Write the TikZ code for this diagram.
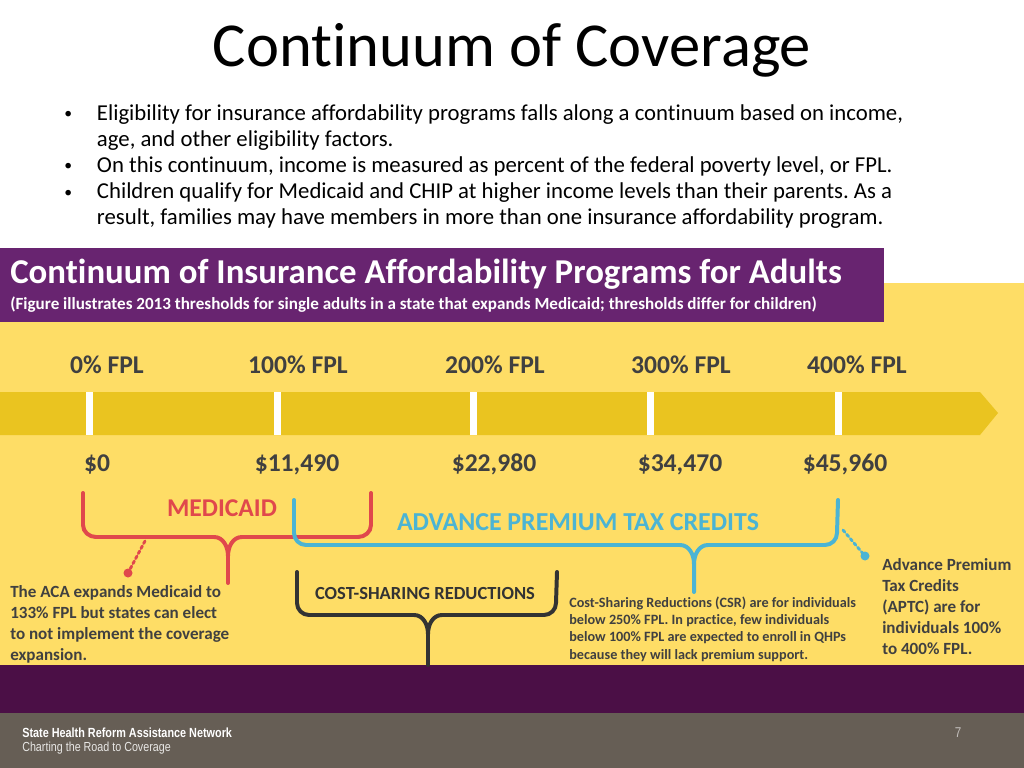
\documentclass[tikz,border=0pt]{standalone}
\usepackage{fontspec}
\setmainfont{Carlito}[Ligatures={NoCommon}]
\newfontfamily\footfont[FakeStretch=0.82]{Liberation Sans}
\usepackage{tikz}
\usepackage{xcolor}
\usetikzlibrary{positioning}
\frenchspacing

\definecolor{bannerpurple}{RGB}{104,36,112}
\definecolor{bgyellow}{RGB}{254,221,102}
\definecolor{baryellow}{RGB}{234,196,32}
\definecolor{medred}{RGB}{224,72,76}
\definecolor{aptcblue}{RGB}{75,180,212}
\definecolor{csrdark}{RGB}{51,51,51}
\definecolor{labelgray}{RGB}{64,64,64}
\definecolor{bandpurple}{RGB}{75,15,70}
\definecolor{footgray}{RGB}{102,94,85}

\tikzset{
  fpl/.style={font=\fontsize{18}{20}\selectfont\bfseries, text=labelgray, inner sep=0pt, anchor=base},
  money/.style={font=\fontsize{18}{20}\selectfont\bfseries, text=labelgray, inner sep=0pt, anchor=base},
  tick/.style={fill=white, draw=none},
  brace/.style={line width=2.8pt, line cap=round, line join=round},
  note/.style={text=labelgray, align=left, anchor=north west, inner sep=0pt},
  dotline/.style={line width=2pt, dotted, line cap=round}
}
\newcommand{\bulletmark}{\makebox[23pt][l]{\raisebox{1pt}{\fontsize{11}{12}\selectfont\textbullet}}}
\newcommand{\bulletgap}{\makebox[23pt][l]{}}

\begin{document}
\begin{tikzpicture}[x=0.703125pt,y=-0.703125pt]
\useasboundingbox (0,0) rectangle (1024,768);
\fill [white] (0,0) rectangle (1024,768);
% title and bullets
\node (title) at (512,50) {\fontsize{44}{48}\selectfont Continuum of Coverage};
\node (bullets) [anchor=north west, inner sep=0pt, align=left,
  font=\fontsize{16}{18.4}\selectfont] at (64,104)
  {\bulletmark Eligibility for insurance affordability programs falls along a continuum based on income,\\
   \bulletgap age, and other eligibility factors.\\
   \bulletmark On this continuum, income is measured as percent of the federal poverty level, or FPL.\\
   \bulletmark Children qualify for Medicaid and CHIP at higher income levels than their parents. As a\\
   \bulletgap result, families may have members in more than one insurance affordability program.};
% background bands
\fill [bgyellow] (0,283) rectangle (1024,665);
\fill [bandpurple] (0,665) rectangle (1024,713);
\fill [footgray] (0,713) rectangle (1024,768);
\fill [bannerpurple] (0,248) rectangle (884,322);
\node (bantitle) [anchor=west, text=white, inner sep=0pt,
  font=\fontsize{24.5}{26}\selectfont\bfseries] at (10,274)
  {Continuum of Insurance Affordability Programs for Adults};
\node (bansub) [anchor=west, text=white, inner sep=0pt,
  font=\fontsize{12}{14}\selectfont\bfseries] at (10,305)
  {(Figure illustrates 2013 thresholds for single adults in a state that expands Medicaid; thresholds differ for children)};
% scale bar
\fill [baryellow] (0,392) -- (980,392) -- (998,413) -- (980,435) -- (0,435) -- cycle;
\foreach \x in {89,277,473,650,838}
  \fill [tick] (\x-3.5,392) rectangle (\x+3.5,435);
\node (fpl0) [fpl] at (107,373) {0\% FPL};
\node (fpl100) [fpl] at (298,373) {100\% FPL};
\node (fpl200) [fpl] at (495,373) {200\% FPL};
\node (fpl300) [fpl] at (681,373) {300\% FPL};
\node (fpl400) [fpl] at (857,373) {400\% FPL};
\node (usd0) [money] at (97,471) {\$0};
\node (usd100) [money] at (297,471) {\$11,490};
\node (usd200) [money] at (494,471) {\$22,980};
\node (usd300) [money] at (680,471) {\$34,470};
\node (usd400) [money] at (845,471) {\$45,960};
% braces
\draw [brace, medred] (83,493) -- (83,525) to[out=270,in=180] (96,537) -- (214,537)
  to[out=0,in=90] (228,556) -- (228,583);
\draw [brace, medred] (228,556) to[out=90,in=180] (242,537) -- (358,537)
  to[out=0,in=270] (371,525) -- (371,493);
\draw [brace, aptcblue] (294,500) -- (294,533) to[out=270,in=180] (306,545) -- (680,545)
  to[out=0,in=90] (694,564) -- (694,592);
\draw [brace, aptcblue] (694,564) to[out=90,in=180] (708,545) -- (825,545)
  to[out=0,in=270] (837,533) -- (838,500);
\draw [brace, csrdark] (297,572) -- (297,603) to[out=270,in=180] (309,615) -- (414,615)
  to[out=0,in=90] (428,634) -- (428,665);
\draw [brace, csrdark] (428,634) to[out=90,in=180] (442,615) -- (544,615)
  to[out=0,in=270] (556,603) -- (557,572);
\node (medicaid) [text=medred, inner sep=0pt, font=\fontsize{18}{20}\selectfont\bfseries]
  at (222,508) {MEDICAID};
\node (aptc) [text=aptcblue, inner sep=0pt, font=\fontsize{18.2}{20}\selectfont\bfseries]
  at (578,522) {ADVANCE PREMIUM TAX CREDITS};
\node (csr) [text=csrdark, inner sep=0pt, font=\fontsize{13}{15}\selectfont\bfseries]
  at (425,594) {COST-SHARING REDUCTIONS};
% callouts
\coordinate (medtip) at (145,541);
\coordinate (medend) at (128,573);
\coordinate (aptctip) at (843,530);
\coordinate (aptcend) at (865,556);
\draw [dotline, medred] (medtip) -- (medend);
\fill [medred] (medend) circle (4.5);
\draw [dotline, aptcblue] (aptctip) -- (aptcend);
\fill [aptcblue] (aptcend) circle (4.5);
\node (mednote) [note, font=\fontsize{12}{14.8}\selectfont\bfseries] at (10,585)
  {The ACA expands Medicaid to\\133\% FPL but states can elect\\to not implement the coverage\\expansion.};
\node (csrnote) [note, font=\fontsize{10}{12}\selectfont\bfseries] at (569,597)
  {Cost-Sharing Reductions (CSR) are for individuals\\below 250\% FPL. In practice, few individuals\\below 100\% FPL are expected to enroll in QHPs\\because they will lack premium support.};
\node (aptcnote) [note, font=\fontsize{12}{14.8}\selectfont\bfseries] at (882,558)
  {Advance Premium\\Tax Credits\\(APTC) are for\\individuals 100\%\\to 400\% FPL.};
% footer
\node (network) [anchor=west, text=white, inner sep=0pt] at (22,733)
  {\footfont\fontsize{9.3}{10}\selectfont\bfseries State Health Reform Assistance Network};
\node (tagline) [anchor=west, text=white!85!footgray, inner sep=0pt] at (22,748)
  {\footfont\fontsize{9.2}{10}\selectfont Charting the Road to Coverage};
\node (pagenum) [text=white!60!footgray, inner sep=0pt] at (958,733)
  {\footfont\fontsize{10}{11}\selectfont 7};
\end{tikzpicture}
\end{document}
